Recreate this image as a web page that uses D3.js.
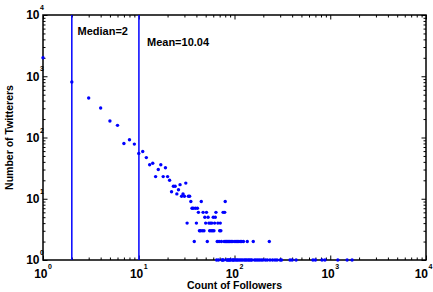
<!DOCTYPE html>
<html>
<head>
<meta charset="utf-8">
<script src="https://cdn.jsdelivr.net/npm/d3@7"></script>
<style>
  body { margin: 0; background: #fff; }
  svg text { font-family: "Liberation Sans", Arial, sans-serif; font-weight: bold; fill: #000; }
</style>
</head>
<body>
<svg width="433" height="292"></svg>
<script>
// followers count (x) and number of twitterers with that count (y)
let followers = [1, 2, 3, 4, 5, 6, 7, 8, 9, 10, 11, 12, 13, 14, 15, 16, 17, 18, 19, 20,
  21, 22, 23, 24, 25, 26, 27, 28, 29, 30, 31, 32, 33, 34, 35, 36, 37, 38, 39, 40,
  41, 42, 43, 44, 45, 46, 47, 48, 49, 50, 51, 52, 53, 54, 55, 56, 57, 58, 59, 60,
  61, 62, 63, 64, 65, 66, 67, 68, 69, 70, 71, 72, 73, 74, 75, 76, 77, 78, 79, 80,
  81, 82, 83, 84, 85, 86, 87, 88, 89, 90, 91, 93, 95, 96, 97, 99, 101, 103, 104, 106,
  107, 109, 111, 113, 115, 117, 119, 121, 124, 126, 130, 134, 136, 139, 143, 148, 152, 157, 162, 168,
  175, 182, 190, 198, 210, 220, 231, 235, 250, 265, 278, 300, 310, 380, 400, 440, 660, 700, 820, 880,
  1200, 1500, 1690];
let twitterers = [2010, 805, 442, 303, 186, 158, 80, 92, 78, 55, 59, 47, 36, 38, 23, 30, 36, 23, 32, 23,
  20, 13, 16, 16, 12, 14, 17, 11, 12, 11, 18, 4, 11, 11, 9, 7, 7, 2, 7, 4,
  7, 6, 3, 3, 9, 3, 6, 3, 5, 4, 6, 2, 5, 4, 3, 4, 3, 4, 3, 5,
  3, 4, 5, 6, 1, 2, 4, 1, 2, 3, 4, 3, 2, 1, 1, 6, 1, 2, 6, 9,
  2, 2, 1, 2, 1, 2, 1, 2, 1, 2, 1, 2, 1, 2, 1, 1, 2, 1, 2, 1,
  2, 1, 2, 1, 2, 1, 2, 1, 2, 1, 1, 1, 2, 1, 1, 1, 1, 2, 1, 1,
  1, 1, 1, 1, 1, 1, 2, 1, 1, 1, 1, 1, 1, 1, 1, 1, 1, 1, 1, 1,
  1, 1, 1];

let medianValue = 2;
let meanValue = 10.04;
let majorTicks = [1, 10, 100, 1000, 10000];
let majorExps = ["0", "1", "2", "3", "4"];

let plotLeft = 43, plotRight = 426, plotTop = 15, plotBottom = 260;

let svg = d3.select("svg");

let xScale = d3.scaleLog().domain([1, 10000]).range([plotLeft, plotRight]);
let yScale = d3.scaleLog().domain([1, 10000]).range([plotBottom, plotTop]);

let minorX = xScale.ticks().filter(v => !majorTicks.includes(v));
let minorY = yScale.ticks().filter(v => !majorTicks.includes(v));

// ticks pointing inward on all four sides
const drawTicks = (axisFn, scale, values, len, tx, ty) => {
  let g = svg.append("g")
    .attr("transform", `translate(${tx},${ty})`)
    .call(axisFn(scale).tickValues(values).tickSizeInner(-len).tickSizeOuter(0).tickFormat(""));
  g.select(".domain").remove();
  g.selectAll("line").attr("stroke", "#000").attr("stroke-width", 1);
}

drawTicks(d3.axisBottom, xScale, minorX, 2.5, 0, plotBottom);
drawTicks(d3.axisBottom, xScale, majorTicks, 4.5, 0, plotBottom);
drawTicks(d3.axisTop, xScale, minorX, 2.5, 0, plotTop);
drawTicks(d3.axisTop, xScale, majorTicks, 4.5, 0, plotTop);
drawTicks(d3.axisLeft, yScale, minorY, 2.5, plotLeft, 0);
drawTicks(d3.axisLeft, yScale, majorTicks, 4.5, plotLeft, 0);
drawTicks(d3.axisRight, yScale, minorY, 2.5, plotRight, 0);
drawTicks(d3.axisRight, yScale, majorTicks, 4.5, plotRight, 0);

// box
svg.append("rect")
  .attr("x", plotLeft).attr("y", plotTop)
  .attr("width", plotRight - plotLeft).attr("height", plotBottom - plotTop)
  .attr("fill", "none").attr("stroke", "#000").attr("stroke-width", 1.5);

// tick labels 10^n
majorTicks.forEach((v, i) => {
  // last label sits at the window edge, nudge it in a bit
  let px = xScale(v) + (i === majorTicks.length - 1 ? -2.5 : 0);
  svg.append("text").attr("x", px + 4.5).attr("y", plotBottom + 17.5)
    .attr("text-anchor", "end").style("font-size", "12px").text("10");
  svg.append("text").attr("x", px + 5).attr("y", plotBottom + 8.5)
    .style("font-size", "7px").text(majorExps[i]);

  let py = yScale(v);
  svg.append("text").attr("x", 39.5).attr("y", py + 4.3)
    .attr("text-anchor", "end").style("font-size", "12px").text("10");
  svg.append("text").attr("x", 40).attr("y", py - 5)
    .style("font-size", "7px").text(majorExps[i]);
});

// median / mean lines
[medianValue, meanValue].forEach(v => {
  svg.append("line")
    .attr("x1", xScale(v)).attr("x2", xScale(v))
    .attr("y1", yScale(1)).attr("y2", yScale(10000))
    .attr("stroke", "#0000ff").attr("stroke-width", 1.5);
});

svg.append("text").attr("x", 77.5).attr("y", 34.5)
  .style("font-size", "11px").text("Median=" + medianValue);
svg.append("text").attr("x", 147).attr("y", 45.5)
  .style("font-size", "11px").text("Mean=" + meanValue.toFixed(2));

// points
svg.selectAll("circle.pt")
  .data(followers)
  .enter()
  .append("circle")
  .attr("class", "pt")
  .attr("cx", d => xScale(d))
  .attr("cy", (d, i) => yScale(twitterers[i]))
  .attr("r", 1.7)
  .attr("fill", "#0000ff");

// axis titles
svg.append("text").attr("x", (plotLeft + plotRight) / 2).attr("y", 289)
  .attr("text-anchor", "middle").style("font-size", "10.5px").text("Count of Followers");
svg.append("text")
  .attr("transform", `translate(13,${(plotTop + plotBottom) / 2}) rotate(-90)`)
  .attr("text-anchor", "middle").style("font-size", "10.5px").text("Number of Twitterers");
</script>
</body>
</html>
